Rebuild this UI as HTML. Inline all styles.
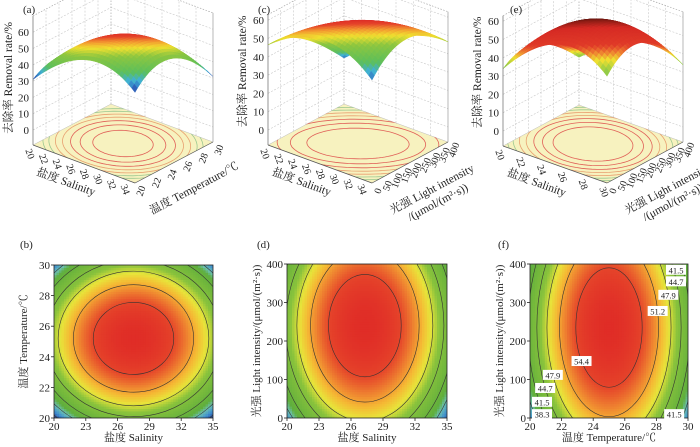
<!DOCTYPE html>
<html><head><meta charset="utf-8">
<style>
html,body{margin:0;padding:0;background:#fff;overflow:hidden;}
svg{display:block;font-family:"Liberation Serif","Noto Serif CJK SC","Noto Sans CJK SC",serif;}
</style></head>
<body>
<svg id="fig" width="700" height="447" viewBox="0 0 700 447" xmlns="http://www.w3.org/2000/svg"></svg>
<script>
// ---------- data ----------
// contour plot models: [peak, xCenter, xCoef, yCenter, yCoef]
const bModel=[57,27.5,0.18,25.2,0.47];
const dModel=[57,27.3,0.224,240,0.000147];
const fModel=[57,25,0.59,235,0.000108];
const contourLevels=[54.4,51.2,47.9,44.7,41.5,38.3,35.1];
const bXTicks=[20,23,26,29,32,35];
const bYTicks=[20,22,24,26,28,30];
const dXTicks=[20,23,26,29,32,35];
const dYTicks=[0,100,200,300,400];
const fXTicks=[20,22,24,26,28,30];
const fYTicks=[0,100,200,300,400];
// labelled contours in (f): level, y value, side (+1 right, -1 left)
const fLabelLevels=[41.5,44.7,47.9,51.2,54.4,47.9,44.7,41.5,38.3,41.5];
const fLabelY=[385,355,320,278,148,112,78,42,10,10];
const fLabelSide=[1,1,1,1,-1,-1,-1,-1,-1,1];
// 3D surface models in normalized coords: [peak,u0,a,v0,b,cross]
const aSurf=[58,0.5,54,0.5,54,0];
const cSurf=[59,0.5,39,0.5,39,28];
const eSurf=[60,0.5,52,0.5,52,0];
const zTicks=[0,10,20,30,40,50,60];
const salTicks=[20,22,24,26,28,30,32,34];
const salTicksE=[20,22,24,26,28,30];
const tempTicks=[20,22,24,26,28,30];
const lightTicks=[0,50,100,150,200,250,300,350,400];
const floorLevels=[55,52,49,46,43,40,37];

// ---------- helpers ----------
const NS="http://www.w3.org/2000/svg";
const svg=document.getElementById('fig');
function mk(tag,attrs,parent){const e=document.createElementNS(NS,tag);for(const k in attrs)e.setAttribute(k,attrs[k]);(parent||svg).appendChild(e);return e;}
function txt(s,x,y,size,anchor,rot,parent,name){
  const t=mk('text',{x:x,y:y,'font-size':size,'text-anchor':anchor||'middle',fill:'#222'},parent);
  if(rot)t.setAttribute('transform','rotate('+rot+' '+x+' '+y+')');
  
  
  t.textContent=s;return t;}
function lerp(a,b,t){return a+(b-a)*t;}
function hex(c){return [parseInt(c.substr(1,2),16),parseInt(c.substr(3,2),16),parseInt(c.substr(5,2),16)];}
function cmap(stops,v){
  if(v<=stops[0][0])return stops[0][1];
  for(let i=1;i<stops.length;i++){if(v<=stops[i][0]){const t=(v-stops[i-1][0])/(stops[i][0]-stops[i-1][0]);const a=hex(stops[i-1][1]),b=hex(stops[i][1]);return 'rgb('+Math.round(lerp(a[0],b[0],t))+','+Math.round(lerp(a[1],b[1],t))+','+Math.round(lerp(a[2],b[2],t))+')';}}
  return stops[stops.length-1][1];}
const stops2D=[[34,'#22308a'],[36.5,'#3f8fd0'],[38.5,'#6cc0b0'],[40,'#5fae3c'],[46,'#88c23c'],[48.5,'#e8e43a'],[50.5,'#f5b834'],[52.5,'#ee7f30'],[54.5,'#e5432a'],[57,'#e02d27']];
const stopsA=[[30,'#4b2a8a'],[32.5,'#2f5fb8'],[35.5,'#3fb0d8'],[39,'#5cbf5a'],[46,'#8dc63f'],[50,'#f0e030'],[53,'#f39a30'],[56,'#e5432a'],[59,'#dd2a26']];
const stopsE=[[26,'#4b2a8a'],[29,'#3f8fd0'],[32,'#5cbf5a'],[37,'#a8d040'],[40,'#f0e030'],[43,'#ee7f30'],[46,'#e03a28'],[54,'#d62a24'],[58,'#8a1c14'],[62,'#2e0d08']];

// ---------- 2D contour panels ----------
function contour(id,box,xr,yr,model,xt,yt,xtitle,ytitle,letter,lx,ly){
  const g=mk('g',{});
  
  
  const [x0,x1,y0,y1]=box;
  const X=v=>x0+(v-xr[0])/(xr[1]-xr[0])*(x1-x0);
  const Y=v=>y1-(v-yr[0])/(yr[1]-yr[0])*(y1-y0);
  const f=(x,y)=>model[0]-model[2]*(x-model[1])**2-model[4]*(y-model[3])**2;
  const cid='clip'+id;
  const cp=mk('clipPath',{id:cid},g);mk('rect',{x:x0,y:y0,width:x1-x0,height:y1-y0},cp);
  const hm=mk('g',{'clip-path':'url(#'+cid+')'},g);
  
  
  const N=64;
  for(let i=0;i<N;i++)for(let j=0;j<N;j++){
    const xv=xr[0]+(i+0.5)/N*(xr[1]-xr[0]),yv=yr[0]+(j+0.5)/N*(yr[1]-yr[0]);
    const c=cmap(stops2D,f(xv,yv));
    const cx=X(xr[0]+i/N*(xr[1]-xr[0])),cy=Y(yr[0]+(j+1)/N*(yr[1]-yr[0]));
    mk('rect',{x:cx.toFixed(2),y:cy.toFixed(2),width:((x1-x0)/N+0.6).toFixed(2),height:((y1-y0)/N+0.6).toFixed(2),fill:c},hm);
  }
  contourLevels.forEach(L=>{
    const d=model[0]-L;if(d<=0)return;
    const rx=Math.sqrt(d/model[2]),ry=Math.sqrt(d/model[4]);
    const e=mk('ellipse',{cx:X(model[1]),cy:Y(model[3]),rx:Math.abs(X(model[1]+rx)-X(model[1])),ry:Math.abs(Y(model[3]+ry)-Y(model[3])),fill:'none',stroke:'#333',"stroke-width":0.6},hm);
    
    
  });
  const fr=mk('rect',{x:x0,y:y0,width:x1-x0,height:y1-y0,fill:'none',stroke:'#222','stroke-width':0.8},g);
  
  
  xt.forEach(v=>{mk('line',{x1:X(v),x2:X(v),y1:y1,y2:y1+3,stroke:'#222','stroke-width':0.8},g);txt(String(v),X(v),y1+12,11,'middle',0,g,'x-tick-label');});
  yt.forEach(v=>{mk('line',{x1:x0-3,x2:x0,y1:Y(v),y2:Y(v),stroke:'#222','stroke-width':0.8},g);txt(String(v),x0-4,Y(v)+4,11,'end',0,g,'y-tick-label');});
  txt(xtitle,(x0+x1)/2,y1+23,11,'middle',0,g,'x-axis-title');
  txt(ytitle,x0-27,(y0+y1)/2,11,'middle',-90,g,'y-axis-title');
  txt(letter,lx,ly,11,'start',0,g,'panel-letter');
  return {g,X,Y,f};
}
contour('b',[54,213,265,418],[20,35],[20,30],bModel,bXTicks,bYTicks,'盐度 Salinity','温度 Temperature/℃','(b)',20,248);
contour('d',[287,447,264,418],[20,35],[0,400],dModel,dXTicks,dYTicks,'盐度 Salinity','光强 Light intensity/(μmol/(m²·s))','(d)',257,248);
const F=contour('f',[530,688,264,418],[20,30],[0,400],fModel,fXTicks,fYTicks,'温度 Temperature/℃','光强 Light intensity/(μmol/(m²·s))','(f)',498,248);
fLabelLevels.forEach((L,i)=>{
  const y=fLabelY[i];const rem=(fModel[0]-L-fModel[4]*(y-fModel[3])**2)/fModel[2];
  if(rem<0)return;const x=fModel[1]+fLabelSide[i]*Math.sqrt(rem);
  const px=Math.min(Math.max(F.X(x),542),676),py=F.Y(y);
  const lb=mk('rect',{x:px-10,y:py-5,width:20,height:10,fill:'#fff'},F.g);
  
  
  txt(L.toFixed(1),px,py+3.5,8.5,'middle',0,F.g,'contour-label');
});

// ---------- 3D panels ----------
const P_PERSP=1.24;
function surf3d(id,geo,model,stops,uTicks,ur,vTicks,vr,utitle,vtitle,letter,lx,ztitleX){
  const g=mk('g',{});
  
  
  const {L,Fp,R,k,zfl,top}=geo;
  const B=[L[0]+R[0]-Fp[0],L[1]+R[1]-Fp[1]];
  const kb=k/(1+0.5*P_PERSP);
  const base=(u,v)=>[L[0]+u*(Fp[0]-L[0])+v*(R[0]-Fp[0]),L[1]+u*(Fp[1]-L[1])+v*(R[1]-Fp[1])];
  const proj=(u,v,z)=>{const b=base(u,v);const d=(u+1-v)/2;return [b[0],b[1]-(z-zfl)*kb*(1+P_PERSP*d)];};
  const zf=(u,v)=>{const du=u-model[1],dv=v-model[3];return model[0]-model[2]*du*du-model[4]*dv*dv+model[5]*du*dv;};
  const H=z=>(z-zfl)*k;
  const gl={stroke:'#c8c8c8','stroke-width':0.6,'stroke-dasharray':'2,1.5',fill:'none'};
  const wallTop=H(top);
  zTicks.forEach(z=>{const h=H(z);mk('polyline',Object.assign({points:[L[0],L[1]-h,B[0],B[1]-h,R[0],R[1]-h].join(' ')},gl),g);});
  for(let i=1;i<6;i++){const t=i/6;
    const p1=[lerp(L[0],B[0],t),lerp(L[1],B[1],t)];mk('line',Object.assign({x1:p1[0],y1:p1[1],x2:p1[0],y2:p1[1]-wallTop},gl),g);
    const p2=[lerp(B[0],R[0],t),lerp(B[1],R[1],t)];mk('line',Object.assign({x1:p2[0],y1:p2[1],x2:p2[0],y2:p2[1]-wallTop},gl),g);}
  mk('polyline',{points:[L[0],L[1]-wallTop,B[0],B[1]-wallTop,R[0],R[1]-wallTop].join(' '),stroke:'#999','stroke-width':0.6,'stroke-dasharray':'1.5,1.5',fill:'none'},g);
  mk('line',{x1:B[0],y1:B[1],x2:B[0],y2:B[1]-wallTop,stroke:'#999','stroke-width':0.6,'stroke-dasharray':'1.5,1.5'},g);
  mk('line',{x1:R[0],y1:R[1],x2:R[0],y2:R[1]-wallTop,stroke:'#888','stroke-width':0.6},g);
  const fl=mk('polygon',{points:[L,Fp,R,B].map(p=>p.join(',')).join(' '),fill:'#f7f2bf',stroke:'#bbb','stroke-width':0.5},g);
  
  
  const cid='fclip'+id;const cp=mk('clipPath',{id:cid},g);mk('polygon',{points:[L,Fp,R,B].map(p=>p.join(',')).join(' ')},cp);
  const fg=mk('g',{'clip-path':'url(#'+cid+')'},g);
  floorLevels.forEach((Lv,i)=>{
    const pts=[];for(let s=0;s<=72;s++){const th=s/72*2*Math.PI,c=Math.cos(th),sn=Math.sin(th);
      const Q=model[2]*c*c+model[4]*sn*sn-model[5]*c*sn;const r=Math.sqrt(Math.max(model[0]-Lv,0)/Q);
      const p=base(model[1]+r*c,model[3]+r*sn);pts.push(p[0].toFixed(1)+','+p[1].toFixed(1));}
    const col=i<3?'#e06058':(i<5?'#e8a070':'#9cc890');
    const e=mk('polyline',{points:pts.join(' '),fill:'none',stroke:col,'stroke-width':0.8},fg);
    
    
  });
  const N=32,quads=[];
  for(let i=0;i<N;i++)for(let j=0;j<N;j++){const u0=i/N,u1=(i+1)/N,v0=j/N,v1=(j+1)/N;quads.push({u0,u1,v0,v1,d:((u0+u1)/2+1-(v0+v1)/2)/2});}
  quads.sort((a,b)=>a.d-b.d);
  const sg=mk('g',{},g);
  
  
  quads.forEach(q=>{
    const pts=[[q.u0,q.v0],[q.u1,q.v0],[q.u1,q.v1],[q.u0,q.v1]].map(([u,v])=>proj(u,v,zf(u,v)));
    const c=cmap(stops,zf((q.u0+q.u1)/2,(q.v0+q.v1)/2));
    mk('polygon',{points:pts.map(p=>p[0].toFixed(1)+','+p[1].toFixed(1)).join(' '),fill:c,stroke:c,'stroke-width':0.5},sg);
  });
  mk('line',{x1:L[0],y1:L[1],x2:L[0],y2:L[1]-wallTop,stroke:'#666','stroke-width':0.7},g);
  zTicks.forEach(z=>{txt(String(z),L[0]-4,L[1]-H(z)+4,11,'end',0,g,'z-tick-label');});
  txt('去除率 Removal rate/%',ztitleX,L[1]-H(32),11.5,'middle',-90,g,'z-axis-title');
  mk('line',{x1:L[0],y1:L[1],x2:Fp[0],y2:Fp[1],stroke:'#555','stroke-width':0.7},g);
  mk('line',{x1:Fp[0],y1:Fp[1],x2:R[0],y2:R[1],stroke:'#555','stroke-width':0.7},g);
  uTicks.forEach(v=>{const u=(v-ur[0])/(ur[1]-ur[0]);const p=base(u,0);txt(String(v),p[0]-6,p[1]+10,10,'middle',70,g,'u-tick-label');});
  vTicks.forEach(v=>{const t=(v-vr[0])/(vr[1]-vr[0]);const p=base(1,t);txt(String(v),p[0]+9,p[1]+9,10,'middle',-70,g,'v-tick-label');});
  const um=base(0.35,0);txt(utitle,um[0]-4,um[1]+27,11.5,'middle',20,g,'u-axis-title');
  const vm=base(1,0.6);
  if(Array.isArray(vtitle)){txt(vtitle[0],vm[0]+16,vm[1]+34,11.5,'middle',-28,g,'v-axis-title');txt(vtitle[1],vm[0]+22,vm[1]+47,11.5,'middle',-28,g,'v-axis-title-unit');}
  else txt(vtitle,vm[0]+14,vm[1]+33,11.5,'middle',-28,g,'v-axis-title');
  txt(letter,lx,13,11,'start',0,g,'panel-letter');
}
surf3d('a',{L:[33,145],Fp:[135,183],R:[213,142],k:1.63,zfl:-9.2,top:70},aSurf,stopsA,salTicks,[20,35],tempTicks,[20,30],'盐度 Salinity','温度 Temperature/℃','(a)',23,12);
surf3d('c',{L:[268,145],Fp:[372,183],R:[448,142],k:1.83,zfl:-8.2,top:63},cSurf,stopsA,salTicks,[20,35],lightTicks,[0,400],'盐度 Salinity',['光强 Light intensity','/(μmol/(m²·s))'],'(c)',258,246);
surf3d('e',{L:[503,146],Fp:[607,183],R:[683,142],k:1.83,zfl:-8.2,top:63},eSurf,stopsE,salTicksE,[20,30],lightTicks,[0,400],'盐度 Salinity',['光强 Light intensity','/(μmol/(m²·s))'],'(e)',510,481);
</script>
</body></html>
